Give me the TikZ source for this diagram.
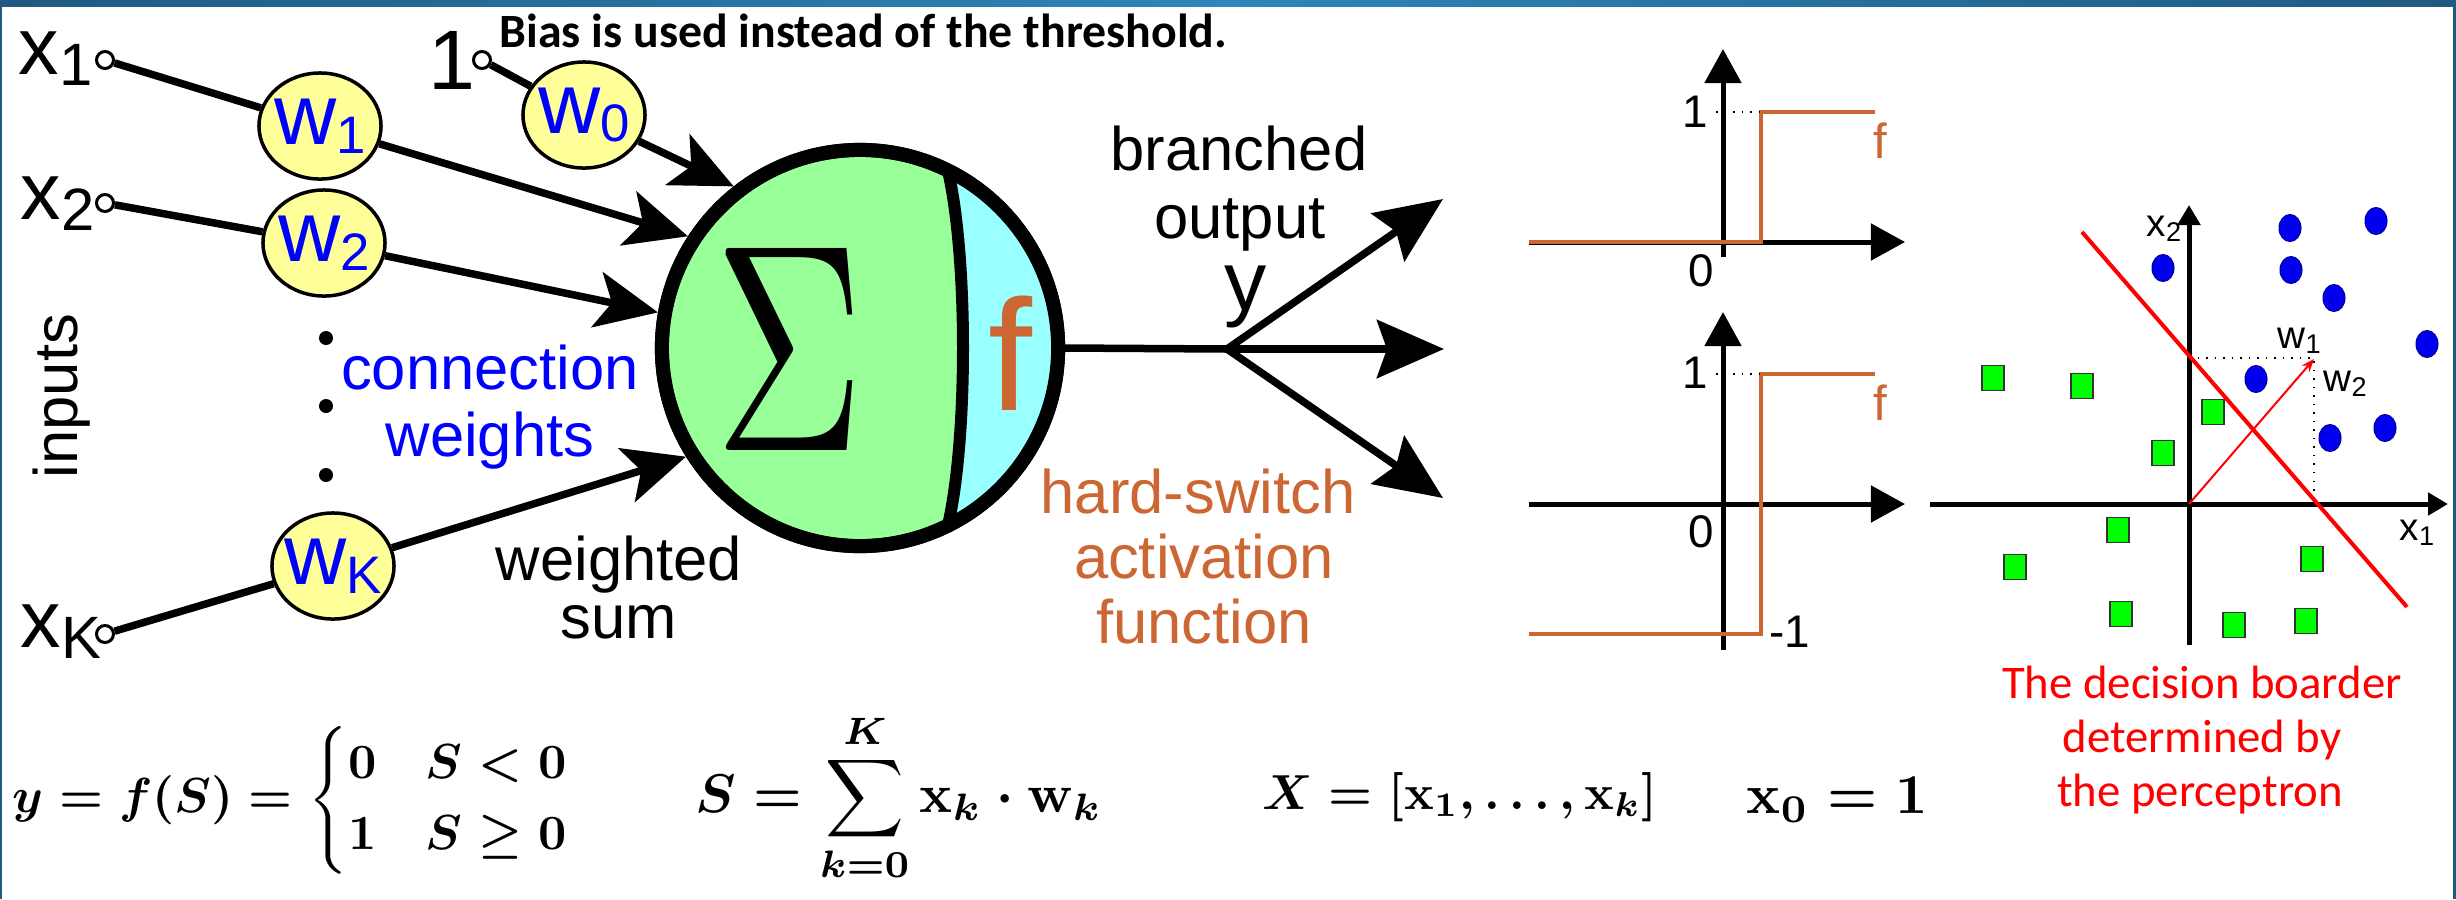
\documentclass[tikz,border=0pt]{standalone}
\usepackage{amsmath,amssymb}
\usepackage{graphicx}
\usepackage{fontspec}
\newfontfamily\arialf{Liberation Sans}
\newfontfamily\calf{Carlito}
\usetikzlibrary{arrows.meta, shapes.geometric, positioning}

\definecolor{wyellow}{HTML}{FFFF99}
\definecolor{sgreen}{HTML}{99FF99}
\definecolor{fcyan}{HTML}{99FFFF}
\definecolor{actorange}{HTML}{CC6633}
\definecolor{wblue}{HTML}{0000FF}
\definecolor{barblue}{HTML}{1F5A80}
\definecolor{barlight}{HTML}{2E86BA}
\definecolor{ptblue}{HTML}{0000EE}
\definecolor{ptgreen}{HTML}{00FF00}

\newcommand{\bigsub}[1]{\raisebox{-3.4pt}{\fontsize{17}{17}\selectfont #1}}
\newcommand{\wsub}[1]{\raisebox{-2.5pt}{\fontsize{15}{15}\selectfont #1}}

\begin{document}
\begin{tikzpicture}[
  x=0.01cm, y=-0.01cm,
  every node/.style={inner sep=0pt, font=\arialf},
  lbl/.style={font=\arialf\fontsize{17.5}{21}\selectfont},
  xlbl/.style={font=\arialf\fontsize{23}{26}\selectfont},
  plbl/.style={font=\arialf\fontsize{13}{15}\selectfont},
  slbl/.style={font=\arialf\fontsize{11}{13}\selectfont},
  captxt/.style={font=\calf\fontsize{13.3}{16}\selectfont, text=red},
  fml/.style={font=\fontsize{10}{12}\selectfont\boldmath},
  inpc/.style={circle, draw=black, fill=white, line width=0.03cm,
               minimum size=0.17cm},
  wnode/.style={ellipse, draw=black, fill=wyellow, line width=0.035cm,
                minimum width=1.22cm, minimum height=1.06cm, text=wblue,
                font=\arialf\fontsize{24.5}{26}\selectfont},
  sumnode/.style={circle, draw=black, fill=sgreen, line width=0.14cm,
                  minimum size=3.96cm},
  heavy/.style={line width=0.075cm},
  harr/.style={heavy, -{Stealth[length=0.62cm, width=0.56cm, inset=0.15cm]}},
  oarr/.style={heavy, -{Stealth[length=0.67cm, width=0.58cm, inset=0.1cm]}},
  axarr/.style={line width=0.05cm, -{Triangle[length=0.34cm, width=0.36cm]}},
  sax/.style={line width=0.05cm, -{Triangle[length=0.2cm, width=0.22cm]}},
  stepl/.style={actorange, line width=0.045cm},
  dotl/.style={dotted, line width=0.015cm},
]
  \useasboundingbox (0,0) rectangle (2456,899);

  % ── Frame ────────────────────────────────────────
  \shade[left color=barblue, right color=barblue, middle color=barlight]
    (0,0) rectangle (2456,6);
  \fill[barblue] (0,0) rectangle (2,899);
  \fill[barblue] (2453,0) rectangle (2456,899);

  % ── Inputs ───────────────────────────────────────
  \node[xlbl, anchor=base west] (x1l) at (18,74)  {x\bigsub{1}};
  \node[xlbl, anchor=base west] (x2l) at (20,219) {x\bigsub{2}};
  \node[xlbl, anchor=base west] (xKl) at (20,647) {x\bigsub{K}};
  \node[font=\arialf\fontsize{24}{26}\selectfont, anchor=base east] (onel) at (476,89) {1};

  \node[inpc] (x1c) at (105,60)  {};
  \node[inpc] (x2c) at (105,203) {};
  \node[inpc] (xKc) at (105,634) {};
  \node[inpc] (onec) at (482,60) {};

  % ── Weights ──────────────────────────────────────
  \node[wnode] (w0) at (584,115) {\makebox[0pt]{w\wsub{0}}};
  \node[wnode] (w1) at (320,126) {\makebox[0pt]{w\wsub{1}}};
  \node[wnode] (w2) at (324,243) {\makebox[0pt]{w\wsub{2}}};
  \node[wnode] (wK) at (333,566) {\makebox[0pt]{w\wsub{K}}};

  % ── Summation neuron ─────────────────────────────
  \node[sumnode] (sig) at (860,348) {};
  \begin{scope}
    \clip (sig.center) circle[radius=1.98cm];
    \fill[fcyan] (948,100) -- (948,170.6) .. controls (968,258) and (968,438) .. (948,525.4)
      -- (948,600) -- (1100,600) -- (1100,100) -- cycle;
  \end{scope}
  \draw[line width=0.12cm] (948,170.6) .. controls (968,258) and (968,438) .. (948,525.4);
  \draw[line width=0.14cm] (sig.center) circle[radius=1.98cm];
  \node (sigma) at (790,349) {\resizebox{1.5cm}{2.02cm}{$\Sigma$}};
  \node[text=actorange, font=\arialf\fontsize{45}{45}\selectfont, anchor=base] (fsig) at (1010,410) {f};

  % ── Input connections ────────────────────────────
  \draw[heavy] (x1c) -- (w1);
  \draw[heavy] (x2c) -- (w2);
  \draw[heavy] (xKc) -- (wK);
  \draw[heavy] (onec) -- (w0);
  \draw[harr] (w0) -- (sig.128.3);
  \draw[harr] (w1) -- (sig.147.2);
  \draw[harr] (w2) -- (sig.170.2);
  \draw[harr] (wK) -- (sig.212.9);

  % ── Branched output ──────────────────────────────
  \coordinate (br) at (1227,349);
  \coordinate (o1) at (1443,199);
  \coordinate (o2) at (1444,349);
  \coordinate (o3) at (1443,498);
  \draw[heavy] (sig.east) -- (br);
  \draw[oarr] (br) -- (o1);
  \draw[oarr] (br) -- (o2);
  \draw[oarr] (br) -- (o3);

  % ── Labels ───────────────────────────────────────
  \node[lbl, rotate=90] (inp) at (62,396) {inputs};
  \foreach \yy in {338,406,475}
    \fill (326,\yy) circle[radius=0.07cm];
  \node[lbl, text=wblue, anchor=base] (conn) at (490,389) {connection};
  \node[lbl, text=wblue, anchor=base] (wts)  at (490,456) {weights};
  \node[lbl, anchor=base] (wtd) at (619,580) {weighted};
  \node[lbl, anchor=base] (sum) at (619,638) {sum};
  \node[lbl, anchor=base] (brn) at (1239,170) {branched};
  \node[lbl, anchor=base] (outp) at (1240,238) {output};
  \node[font=\arialf\fontsize{24}{26}\selectfont, anchor=base] (ylab) at (1246,310) {y};
  \node[lbl, text=actorange, anchor=base] (hs)  at (1198,513) {hard-switch};
  \node[lbl, text=actorange, anchor=base] (act) at (1204,578) {activation};
  \node[lbl, text=actorange, anchor=base] (fun) at (1204,643) {function};
  \node[font=\calf\bfseries\fontsize{13.6}{16}\selectfont, anchor=base west] (bias)
    at (499,47) {Bias is used instead of the threshold.};

  % ── Step functions ───────────────────────────────
  \draw[axarr] (1723,257) -- (1723,49);
  \draw[axarr] (1529,242) -- (1905,242);
  \draw[stepl] (1529,242) -- (1761,242) -- (1761,112) -- (1875,112);
  \draw[dotl] (1716,112) -- (1761,112);
  \node[plbl, anchor=base] (one1) at (1695,127) {1};
  \node[plbl, anchor=base] (zero1) at (1701,286) {0};
  \node[plbl, font=\arialf\fontsize{14}{16}\selectfont, text=actorange, anchor=base] (f1) at (1880,158) {f};

  \draw[axarr] (1723,650) -- (1723,312);
  \draw[axarr] (1529,504) -- (1905,504);
  \draw[stepl] (1529,634) -- (1761,634) -- (1761,374) -- (1875,374);
  \draw[dotl] (1716,374) -- (1761,374);
  \node[plbl, anchor=base] (one2) at (1695,388) {1};
  \node[plbl, anchor=base] (zero2) at (1701,547) {0};
  \node[plbl, font=\arialf\fontsize{14}{16}\selectfont, text=actorange, anchor=base] (f2) at (1880,420) {f};
  \node[plbl, anchor=base] (mone) at (1790,647) {-1};

  % ── Decision border ──────────────────────────────
  \draw[sax] (1930,504) -- (2448,504);
  \draw[sax] (2189,645) -- (2189,205);
  \draw[dotl] (2189,358) -- (2314,358) -- (2314,504);
  \foreach \px/\py in {2290/228, 2376/221, 2163/268, 2291/270, 2334/298,
                       2427/344, 2256/379, 2330/438, 2385/428}
    \filldraw[fill=ptblue, draw=blue!60!black, line width=0.01cm]
      (\px,\py) ellipse[x radius=0.11cm, y radius=0.135cm];
  \foreach \px/\py in {1993/378, 2082/386, 2213/412, 2163/453, 2118/530,
                       2015/567, 2312/559, 2121/614, 2234/625, 2306/621}
    \filldraw[fill=ptgreen, draw=black!80, line width=0.015cm]
      (\px-11,\py-12.5) rectangle (\px+11,\py+12.5);
  \draw[red, line width=0.04cm] (2082,232) -- (2407,607);
  \draw[red, line width=0.02cm, -{Stealth[length=0.13cm, width=0.1cm]}] (2189,504) -- (2314,359);
  \node[slbl, anchor=base west] (sx2) at (2146,236) {x\textsubscript{2}};
  \node[slbl, anchor=base west] (sx1) at (2399,540) {x\textsubscript{1}};
  \node[slbl, anchor=base west] (sw1) at (2277,348) {w\textsubscript{1}};
  \node[slbl, anchor=base west] (sw2) at (2323,391) {w\textsubscript{2}};

  \node[captxt, anchor=base] (cap1) at (2202,698) {The decision boarder};
  \node[captxt, anchor=base] (cap2) at (2202,752) {determined by};
  \node[captxt, anchor=base] (cap3) at (2200,806) {the perceptron};

  % ── Formulas ─────────────────────────────────────
  \node[fml, anchor=west] (feq) at (12,800)
    {\scalebox{1.4}{$y = f(S) = \begin{cases} 0 & S < 0\\ 1 & S \geq 0\end{cases}$}};
  \node[fml, anchor=west] (seq) at (695,798)
    {\scalebox{1.55}{$\displaystyle S = \sum_{k=0}^{K} \mathbf{x}_k \cdot \mathbf{w}_k$}};
  \node[fml, anchor=west] (xeq) at (1262,797) {\scalebox{1.4}{$X = [\mathbf{x}_1, \ldots, \mathbf{x}_k]$}};
  \node[fml, anchor=west] (x0eq) at (1746,800) {\scalebox{1.6}{$\mathbf{x}_0 = 1$}};

\end{tikzpicture}
\end{document}
